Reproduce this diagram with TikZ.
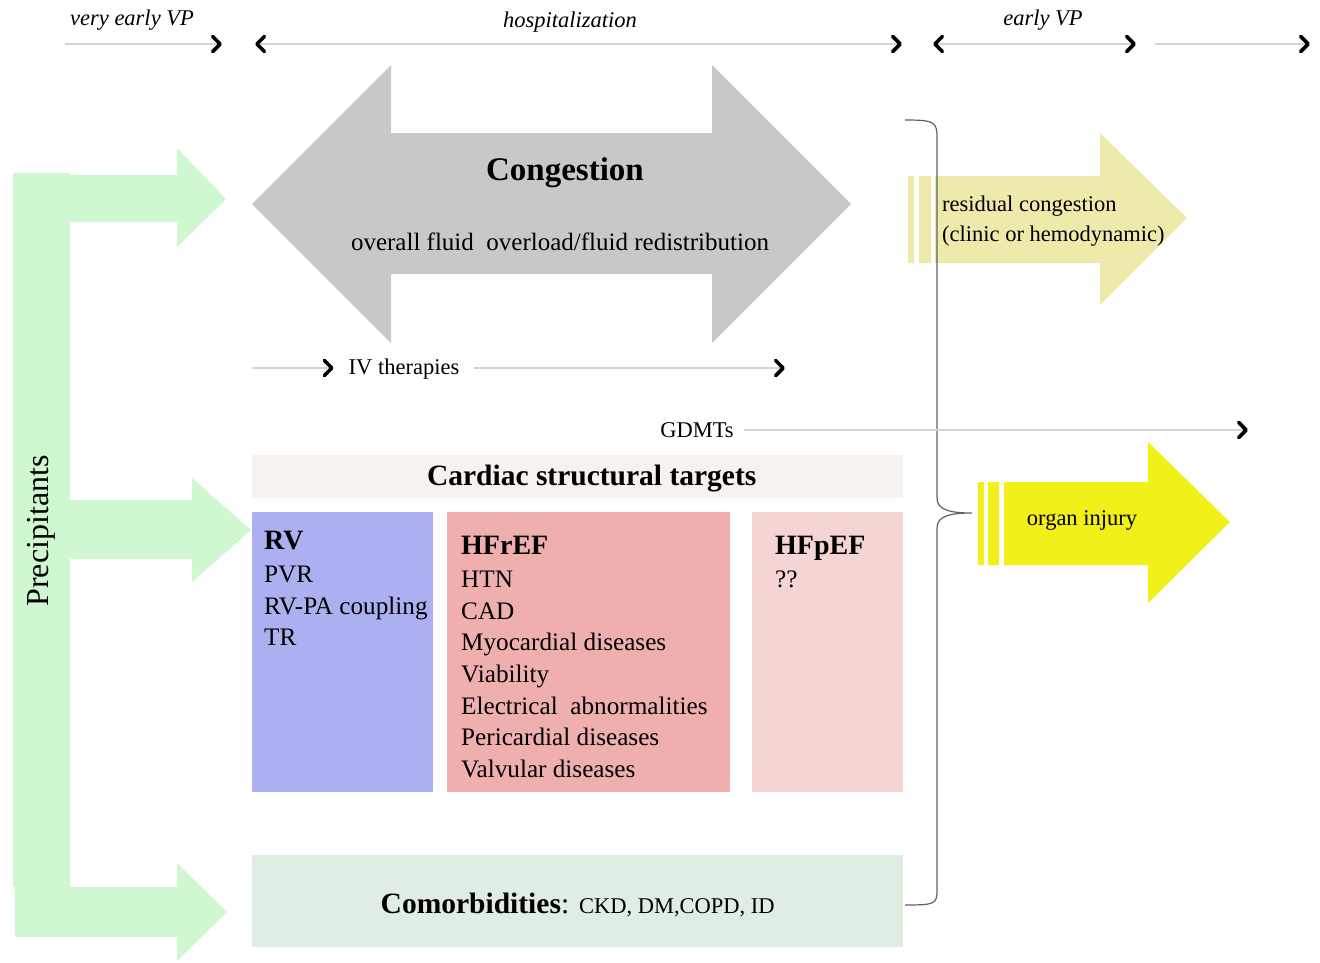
\documentclass[tikz,border=0pt]{standalone}
\usepackage{fontspec}
\setmainfont{Liberation Serif}
\usetikzlibrary{arrows.meta,positioning}
\begin{document}
\begin{tikzpicture}[x=1pt,y=-1pt,
  tl/.style={draw=black!17,line width=1.2pt},
  chev/.tip={Straight Barb[length=7.5pt,width=15pt,line width=3.6pt,color=black,round]},
  lbl/.style={inner sep=0,font=\fontsize{22.5}{30}\selectfont},
  per/.style={inner sep=0,font=\fontsize{22.5}{28}\selectfont\itshape},
  tbox/.style={inner sep=0,anchor=north west,minimum height=280pt},
  lst/.style={inner sep=0,anchor=north west,align=left,font=\fontsize{25.2}{31.6}\selectfont}]
\definecolor{congc}{RGB}{200,200,200}
\definecolor{grnc}{RGB}{208,248,208}
\definecolor{rcc}{RGB}{237,234,171}
\definecolor{oic}{RGB}{242,240,25}
\definecolor{hdrc}{RGB}{246,242,239}
\definecolor{rvc}{RGB}{173,176,240}
\definecolor{hfrc}{RGB}{240,175,175}
\definecolor{hfpc}{RGB}{245,212,212}
\definecolor{comc}{RGB}{224,237,226}
\def\Hd#1{{\fontsize{28}{31.6}\selectfont\bfseries #1}}
\useasboundingbox (0,0) rectangle (1320,962);
\coordinate (t0) at (65,44); \coordinate (t1) at (222,44);
\coordinate (t2) at (255,44); \coordinate (t3) at (902,44);
\coordinate (t4) at (933,44); \coordinate (t5) at (1136,44);
\coordinate (t6) at (1155,44); \coordinate (t7) at (1310,44);
\draw[tl,-chev] (t0) -- (t1);
\draw[tl,chev-chev] (t2) -- (t3);
\draw[tl,chev-chev] (t4) -- (t5);
\draw[tl,-chev] (t6) -- (t7);
\node (vevp) [per] at (132,20) {very early VP};
\node (hosp) [per] at (570,22) {hospitalization};
\node (evp) [per] at (1043,20) {early VP};
\fill[congc] (252,204) -- (391,65) -- (391,133) -- (712,133) -- (712,65) -- (851,204) -- (712,343) -- (712,274) -- (391,274) -- (391,343) -- cycle;
\node (cong) [inner sep=0,font=\fontsize{33}{36}\selectfont\bfseries] at (565,173) {Congestion};
\node (fluid) [inner sep=0,font=\fontsize{25}{30}\selectfont] at (560,242) {overall fluid\ \ overload/fluid redistribution};
\fill[grnc] (13,173) rectangle (70,887);
\fill[grnc] (70,175) -- (177,175) -- (177,148) -- (226,199) -- (177,247) -- (177,222) -- (70,222) -- cycle;
\fill[grnc] (70,500) -- (192,500) -- (192,478) -- (251,530) -- (192,582) -- (192,559) -- (70,559) -- cycle;
\fill[grnc] (15,887) -- (177,887) -- (177,863) -- (227,912) -- (177,961) -- (177,937) -- (15,937) -- cycle;
\node (prec) [rotate=90,inner sep=0,font=\fontsize{32}{36}\selectfont] at (41,531) {Precipitants};
\fill[rcc] (908,176) rectangle (914,263) (919,176) rectangle (931,263);
\fill[rcc] (935,176) -- (1100,176) -- (1100,133) -- (1187,218) -- (1100,305) -- (1100,263) -- (935,263) -- cycle;
\node (resid) [lbl,anchor=west,align=left] at (942,221) {residual congestion\\(clinic or hemodynamic)};
\fill[oic] (978,482) rectangle (984,565) (988,482) rectangle (999,565);
\fill[oic] (1004,482) -- (1148,482) -- (1148,442) -- (1230,522) -- (1148,603) -- (1148,565) -- (1004,565) -- cycle;
\node (organ) [lbl] at (1082,520) {organ injury};
\draw[black!62,line width=1.2pt] (905,120) .. controls (935,120) and (937,122) .. (937,138) -- (937,498) .. controls (937,510) and (950,513) .. (972,513) .. controls (950,513) and (937,516) .. (937,528) -- (937,890) .. controls (937,904) and (935,905) .. (905,905);
\node (iv) [lbl,outer xsep=15pt] at (404,369) {IV therapies};
\coordinate (iv0) at (252,368); \coordinate (iv1) at (785,368);
\draw[tl,-chev] (iv0) -- (iv0 -| iv.west);
\draw[tl,-chev] (iv.east |- iv1) -- (iv1);
\node (gdmt) [lbl,outer xsep=10pt] at (697,430) {GDMTs};
\coordinate (gd1) at (1248,430);
\draw[tl,-chev] (gdmt.east |- gd1) -- (gd1);
\node (cst) [tbox,minimum width=651pt,minimum height=43pt,text height=25pt,fill=hdrc,font=\fontsize{29.5}{32}\selectfont\bfseries] at (252,455) {\hspace*{28pt}Cardiac structural targets};
\node (rv) [tbox,minimum width=181pt,fill=rvc] at (252,512) {};
\node (hfr) [tbox,minimum width=283pt,fill=hfrc] at (447,512) {};
\node (hfp) [tbox,minimum width=151pt,fill=hfpc] at (752,512) {};
\node (rvl) [lst] at (264,531) {\Hd{RV}\\[1.5pt]PVR\\RV-PA coupling\\TR};
\node (hfrl) [lst] at (461,536) {\Hd{HFrEF}\\[1.5pt]HTN\\CAD\\Myocardial diseases\\Viability\\Electrical\ \ abnormalities\\Pericardial diseases\\Valvular diseases};
\node (hfpl) [lst] at (775,536) {\Hd{HFpEF}\\[1.5pt]??};
\node (comb) [tbox,minimum width=651pt,minimum height=92pt,text height=29pt,fill=comc,font=\fontsize{29.5}{32}\selectfont] at (252,855) {\textbf{Comorbidities}: {\fontsize{22.5}{28}\selectfont CKD, DM,COPD, ID}};
\end{tikzpicture}
\end{document}
